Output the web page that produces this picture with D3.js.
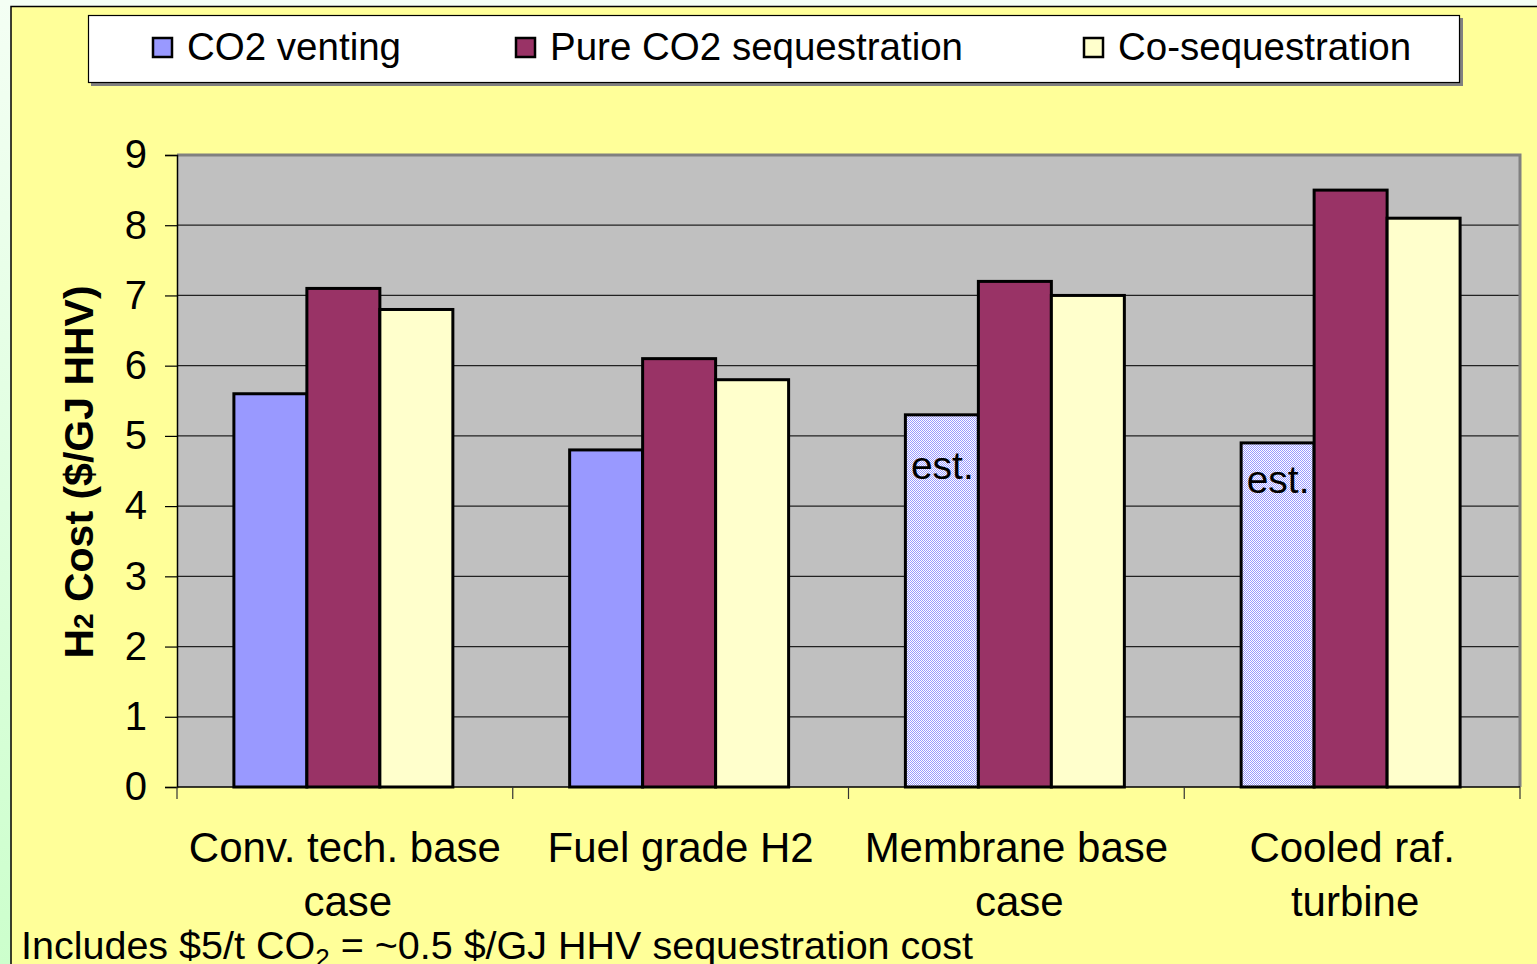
<!DOCTYPE html>
<html>
<head>
<meta charset="utf-8">
<script src="https://cdnjs.cloudflare.com/ajax/libs/d3/7.8.5/d3.min.js"></script>
<style>
  body { margin: 0; overflow: hidden; background: #ffff99; }
  text { font-family: "Liberation Sans", Arial, sans-serif; }
</style>
</head>
<body>
<div id="chart"></div>
<script>
// chart data
var categories = [['Conv. tech. base', 'case'], ['Fuel grade H2'], ['Membrane base', 'case'], ['Cooled raf.', 'turbine']];
var series = ['CO2 venting', 'Pure CO2 sequestration', 'Co-sequestration'];
var venting = [5.6, 4.8, 5.3, 4.9];
var pureSeq = [7.1, 6.1, 7.2, 8.5];
var coSeq = [6.8, 5.8, 7.0, 8.1];
var estimated = [false, false, true, true];   // venting bars that are estimates
var estLabelY = [null, null, 4.38, 4.18];
var yTicks = [0, 1, 2, 3, 4, 5, 6, 7, 8, 9];
var colors = ['#9999ff', '#993366', '#ffffcc'];

var w = 1537;
var h = 964;
var plot = {left: 177, right: 1520, top: 155, bottom: 787};

var svg = d3.select('#chart')
  .append('svg')
  .attr('width', w)
  .attr('height', h);

var defs = svg.append('defs');
var grad = defs.append('linearGradient')
  .attr('id', 'side').attr('x1', 0).attr('y1', 0).attr('x2', 0).attr('y2', 1);
grad.append('stop').attr('offset', '0%').attr('stop-color', '#f4fff4');
grad.append('stop').attr('offset', '100%').attr('stop-color', '#ccffcc');

// hatched fill for estimated bars
var pat = defs.append('pattern')
  .attr('id', 'hatch').attr('width', 2).attr('height', 2)
  .attr('patternUnits', 'userSpaceOnUse');
pat.append('rect').attr('width', 2).attr('height', 2).attr('fill', '#ffffff');
pat.append('rect').attr('width', 1).attr('height', 1).attr('fill', '#9999ff');
pat.append('rect').attr('x', 1).attr('y', 1).attr('width', 1).attr('height', 1).attr('fill', '#9999ff');

// background: green strip and yellow slide panel
svg.append('rect').attr('x', 0).attr('y', 0).attr('width', 11).attr('height', h).attr('fill', 'url(#side)');
svg.append('rect').attr('x', 0).attr('y', 0).attr('width', w).attr('height', 6).attr('fill', '#f4fff4');
svg.append('rect').attr('x', 11).attr('y', 6.5).attr('width', w).attr('height', h)
  .attr('fill', '#ffff99').attr('stroke', '#000').attr('stroke-width', 1.5);

var x = d3.scaleBand()
  .domain(d3.range(categories.length))
  .range([plot.left, plot.right]);
var xInner = d3.scaleBand()
  .domain(d3.range(series.length))
  .range([0, x.bandwidth()])
  .paddingOuter(0.8);
var y = d3.scaleLinear()
  .domain([0, 9]).range([plot.bottom, plot.top]);

// plot area
svg.append('rect')
  .attr('x', plot.left).attr('y', plot.top)
  .attr('width', plot.right - plot.left).attr('height', plot.bottom - plot.top)
  .attr('fill', '#c0c0c0');

svg.append('g').selectAll('line')
  .data(yTicks.slice(1, -1))
  .enter()
  .append('line')
  .attr('x1', plot.left).attr('x2', plot.right)
  .attr('y1', function(d) { return y(d); })
  .attr('y2', function(d) { return y(d); })
  .attr('stroke', '#222').attr('stroke-width', 1.2);

// top and right border of plot area
svg.append('path')
  .attr('d', 'M' + plot.left + ',' + plot.top + 'H' + plot.right + 'V' + plot.bottom)
  .attr('fill', 'none').attr('stroke', '#808080').attr('stroke-width', 3);

// bars
var allSeries = [venting, pureSeq, coSeq];
var bars = [];
allSeries.forEach(function(vals, s) {
  vals.forEach(function(v, c) {
    bars.push({c: c, s: s, v: v});
  });
});

svg.append('g').selectAll('rect')
  .data(bars)
  .enter()
  .append('rect')
  .attr('x', function(d) { return x(d.c) + xInner(d.s) - 1.5; })
  .attr('y', function(d) { return y(d.v); })
  .attr('width', xInner.bandwidth())
  .attr('height', function(d) { return y(0) - y(d.v); })
  .attr('fill', function(d) {
    return (d.s == 0 && estimated[d.c]) ? 'url(#hatch)' : colors[d.s];
  })
  .attr('stroke', '#000')
  .attr('stroke-width', 3);

// "est." labels
svg.append('g').selectAll('text')
  .data(estLabelY.map(function(v, i) { return {c: i, v: v}; }).filter(function(d) { return d.v != null; }))
  .enter()
  .append('text')
  .attr('x', function(d) { return x(d.c) + xInner(0) + 4; })
  .attr('y', function(d) { return y(d.v); })
  .attr('font-size', 39)
  .text('est.');

// y axis
var yAxis = d3.axisLeft(y).tickValues(yTicks).tickSize(12).tickPadding(18);
var gy = svg.append('g')
  .attr('transform', 'translate(' + plot.left + ',0)')
  .call(yAxis);
gy.select('.domain').attr('stroke', '#000').attr('stroke-width', 1.5);
gy.selectAll('.tick line').attr('stroke', '#000').attr('stroke-width', 1.2);
gy.selectAll('.tick text').attr('font-size', 40).attr('fill', '#000')
  .attr('font-family', '"Liberation Sans", Arial, sans-serif');

// x axis line and ticks
svg.append('line')
  .attr('x1', plot.left).attr('x2', plot.right)
  .attr('y1', plot.bottom).attr('y2', plot.bottom)
  .attr('stroke', '#000').attr('stroke-width', 1.5);
svg.append('g').selectAll('line')
  .data(d3.range(categories.length + 1))
  .enter()
  .append('line')
  .attr('x1', function(d) { return plot.left + d * x.step(); })
  .attr('x2', function(d) { return plot.left + d * x.step(); })
  .attr('y1', plot.bottom).attr('y2', plot.bottom + 12)
  .attr('stroke', '#333').attr('stroke-width', 1.2);

// category labels
var catText = svg.append('g').selectAll('text')
  .data(categories)
  .enter()
  .append('text')
  .attr('x', function(d, i) { return x(i) + x.bandwidth() / 2; })
  .attr('y', 862)
  .attr('text-anchor', 'middle')
  .attr('font-size', 42);
catText.each(function(d, i) {
  var t = d3.select(this);
  d.forEach(function(line, j) {
    t.append('tspan')
      .attr('x', x(i) + x.bandwidth() / 2 + (j == 1 ? 3 : 0))
      .attr('dy', j == 0 ? 0 : 54)
      .text(line);
  });
});

// y axis title
var yt = svg.append('text')
  .attr('transform', 'translate(93,' + ((plot.top + plot.bottom) / 2 + 1) + ') rotate(-90)')
  .attr('text-anchor', 'middle')
  .attr('font-size', 41)
  .attr('font-weight', 'bold');
yt.append('tspan').text('H');
yt.append('tspan').attr('font-size', 28).text('2');
yt.append('tspan').text(' Cost ($/GJ HHV)');

// legend
var lg = svg.append('g');
lg.append('rect').attr('x', 91).attr('y', 18).attr('width', 1372).attr('height', 68).attr('fill', '#808080');
lg.append('rect').attr('x', 88.5).attr('y', 15.5).attr('width', 1371).attr('height', 67)
  .attr('fill', '#fff').attr('stroke', '#000').attr('stroke-width', 1.2);
var legendX = [152, 515, 1083];
var items = lg.selectAll('g.item')
  .data(series)
  .enter()
  .append('g')
  .attr('transform', function(d, i) { return 'translate(' + legendX[i] + ',0)'; });
items.append('rect')
  .attr('x', 1).attr('y', 38).attr('width', 19).attr('height', 19)
  .attr('fill', function(d, i) { return colors[i]; })
  .attr('stroke', '#000').attr('stroke-width', 2.5);
items.append('text')
  .attr('x', 35).attr('y', 60)
  .attr('font-size', 38.5)
  .text(function(d) { return d; });

// footnote
var fn = svg.append('text')
  .attr('x', 21).attr('y', 959)
  .attr('font-size', 39.5);
fn.append('tspan').text('Includes $5/t CO');
fn.append('tspan').attr('font-size', 26).attr('dy', 8).text('2');
fn.append('tspan').attr('dy', -8).text(' = ~0.5 $/GJ HHV sequestration cost');
</script>
</body>
</html>
